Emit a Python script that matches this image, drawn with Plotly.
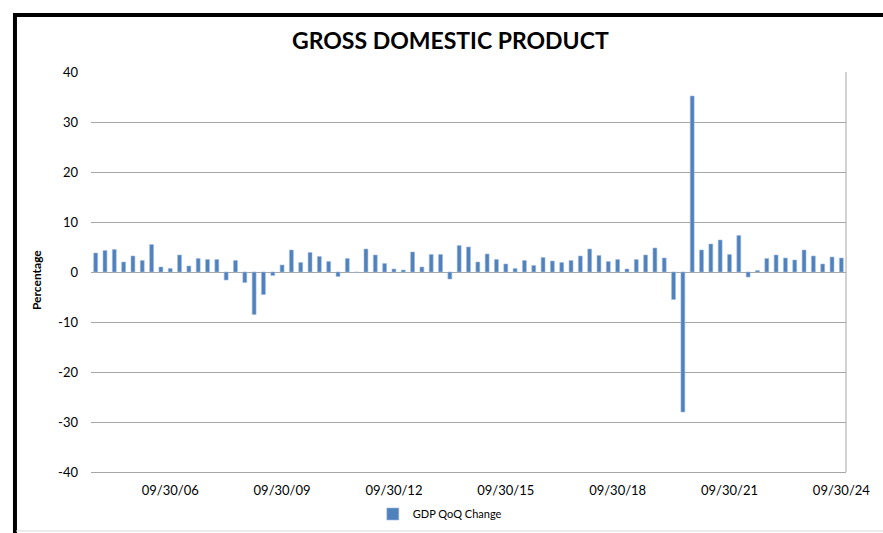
import plotly.graph_objects as go

# Quarterly GDP QoQ change (annualized %), 2004-Q3 .. 2024-Q3
quarters = [f"{m}/30/{y:02d}" if m in ("06", "09") else f"{m}/31/{y:02d}"
            for y in range(4, 25) for m in ("03", "06", "09", "12")]
quarters = quarters[2:2 + 81]

gdp_qoq = [3.8, 4.3, 4.5, 2.0, 3.2, 2.3, 5.5, 1.0, 0.7, 3.4,
           1.2, 2.7, 2.5, 2.5, -1.6, 2.3, -2.1, -8.5, -4.5, -0.7,
           1.4, 4.4, 1.9, 3.9, 3.1, 2.1, -0.9, 2.7, -0.1, 4.6,
           3.4, 1.7, 0.6, 0.4, 4.0, 1.0, 3.5, 3.5, -1.4, 5.3,
           5.0, 2.0, 3.6, 2.5, 1.6, 0.7, 2.3, 1.3, 2.9, 2.2,
           1.9, 2.3, 3.2, 4.6, 3.3, 2.1, 2.5, 0.6, 2.5, 3.4,
           4.8, 2.8, -5.5, -28.0, 35.2, 4.4, 5.6, 6.4, 3.5, 7.3,
           -1.0, 0.3, 2.7, 3.4, 2.8, 2.4, 4.4, 3.2, 1.6, 3.0,
           2.8]

tick_labels = ["09/30/06", "09/30/09", "09/30/12", "09/30/15",
               "09/30/18", "09/30/21", "09/30/24"]

y_tick_vals = [-40, -30, -20, -10, 0, 10, 20, 30, 40]
y_tick_text = ["-40", "-30", "-20", "-10", "0", "10", "20", "30", "40"]

idx = list(range(len(gdp_qoq)))
tick_pos = [quarters.index(t) for t in tick_labels]

FONT = "Lato, Carlito, Calibri, sans-serif"
GRID = "#a6a6a6"

fig = go.Figure()
fig.add_trace(go.Bar(
    x=idx, y=gdp_qoq, name="GDP QoQ Change",
    width=0.42,
    marker=dict(color="#4f81bd", line=dict(color="#9fbbe0", width=0.6)),
    customdata=quarters,
    hovertemplate="%{customdata}: %{y}<extra></extra>",
))

fig.update_layout(
    width=883, height=533,
    margin=dict(l=91, r=37, t=72, b=61, autoexpand=False),
    paper_bgcolor="white", plot_bgcolor="white",
    font=dict(family=FONT, color="black", size=13),
    showlegend=True,
    legend=dict(orientation="h", x=0.462, xanchor="center", y=-0.105,
                yanchor="middle", font=dict(size=11, family=FONT),
                itemwidth=30, bgcolor="rgba(0,0,0,0)"),
    xaxis=dict(range=[-0.5, len(idx) - 0.5], tickmode="array",
               tickvals=tick_pos, ticktext=tick_labels,
               ticks="outside", ticklen=6, tickcolor="rgba(0,0,0,0)",
               showgrid=False, zeroline=False,
               showline=True, linecolor=GRID, linewidth=1,
               tickfont=dict(size=13, family=FONT)),
    xaxis2=dict(overlaying="x", anchor="free", position=0.5,
                range=[-0.5, len(idx) - 0.5], tickmode="linear",
                tick0=-0.5, dtick=1, ticks="inside", ticklen=5,
                tickcolor="#a0a0a0", tickwidth=1,
                showticklabels=False, showgrid=False, zeroline=False,
                showline=True, linecolor="#8c8c8c", linewidth=1.5),
    yaxis=dict(range=[-40, 40], tickmode="array", tickvals=y_tick_vals,
               ticktext=y_tick_text, showgrid=True,
               gridcolor=GRID, gridwidth=1, zeroline=False,
               showline=False, ticks="", ticklabelstandoff=12,
               tickfont=dict(size=13, family=FONT)),
    annotations=[
        dict(text="<b>GROSS DOMESTIC PRODUCT</b>", xref="paper", yref="paper",
             x=0.4768, y=1.08, xanchor="center", yanchor="middle",
             showarrow=False, font=dict(size=23, family=FONT)),
        dict(text="<b>Percentage</b>", xref="paper", yref="paper",
             x=-0.0728, y=0.48, xanchor="center", yanchor="middle",
             textangle=-90, showarrow=False, font=dict(size=12, family=FONT)),
    ],
    shapes=[
        dict(type="line", xref="paper", yref="paper", x0=1, x1=1, y0=0, y1=1,
             line=dict(color=GRID, width=1)),
        dict(type="rect", xref="paper", yref="paper",
             x0=-0.1007, x1=1.2, y0=-0.3, y1=1.1425,
             line=dict(color="black", width=4)),
        dict(type="line", xref="paper", yref="paper",
             x0=-0.0993, x1=1.2, y0=-0.1475, y1=-0.1475,
             line=dict(color="#d9d9d9", width=1)),
    ],
)

fig.write_html("out.html",
               config={"displayModeBar": False},
               post_script="document.body.style.margin='0';"
                           "document.body.style.overflow='hidden';")
